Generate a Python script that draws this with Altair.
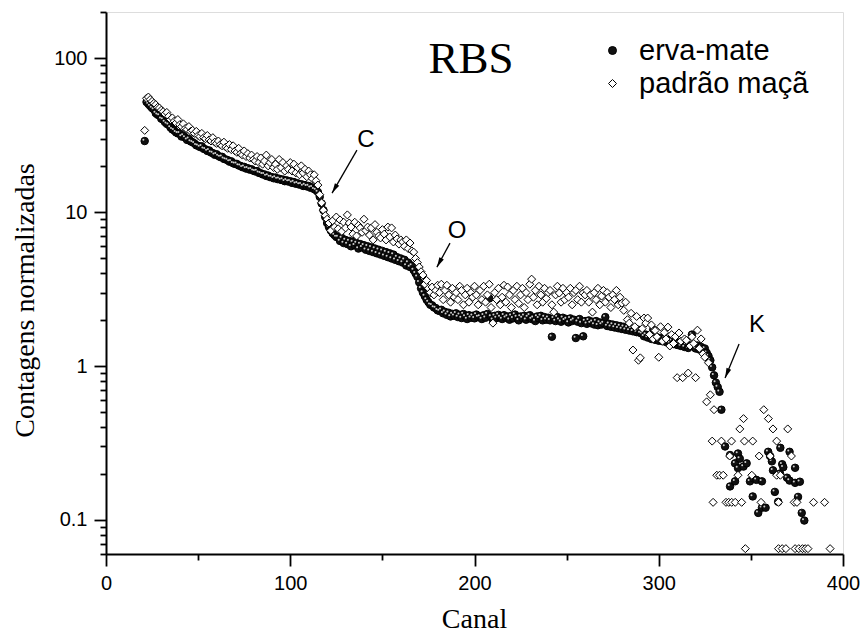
import altair as alt
import pandas as pd

SERIES = ["erva-mate", "padrão maçã"]

# ---- erva-mate (black spheres): one value per channel from channel 21 ----
erva_start = 21
erva_main = [
    29, 52, 50.5, 49, 47.5, 46.5, 44, 43, 42.5, 40.5,
    40, 38.5, 37.5, 37, 35.5, 34.5, 34, 33, 32.5, 32.5,
    31, 31.5, 30.5, 29.5, 30, 28.8, 28.5, 28, 27.2, 27,
    26.5, 26.8, 25.8, 25.6, 25, 25.2, 24.4, 24.2, 23.6, 23.8,
    23.2, 22.8, 22.9, 22.2, 22, 21.8, 21.3, 21.4, 20.8, 20.6,
    20.6, 20.1, 20, 19.6, 19.7, 19.2, 19.3, 18.9, 19, 18.6,
    18.4, 18.5, 18, 17.9, 17.6, 17.6, 17.2, 17.3, 16.9, 16.9,
    16.6, 16.8, 16.4, 16.5, 16.2, 16.3, 15.9, 16.1, 15.8, 15.9,
    15.5, 15.7, 15.3, 15.4, 15.1, 15.2, 14.8, 15, 14.7, 14.8,
    14.4, 14.5, 14.1, 13.9, 13.5, 12.6, 11.4, 10.3, 9.3, 8.5,
    8.0, 7.6, 7.3, 7.1, 6.9, 6.9, 6.5, 6.8, 6.3, 6.6,
    6.2, 6.5, 6.0, 6.4, 6.1, 6.3, 5.8, 6.2, 5.9, 6.1,
    5.7, 6.0, 5.6, 5.9, 5.5, 5.8, 5.4, 5.7, 5.3, 5.6,
    5.2, 5.5, 5.1, 5.4, 5.0, 5.3, 4.9, 5.1, 4.8, 5.0,
    4.7, 4.9, 4.5, 4.7, 4.4, 4.5, 4.2, 4.0, 3.8, 3.5,
    3.2, 3.0, 2.85, 2.7, 2.6, 2.5, 2.48, 2.4, 2.38, 2.3,
    2.28, 2.32, 2.2, 2.25, 2.15, 2.22, 2.1, 2.18, 2.12, 2.2,
    2.08, 2.15, 2.05, 2.18, 2.1, 2.02, 2.14, 2.06, 2.12, 2.04,
    2.16, 2.08, 2.1, 2.02, 2.14, 2.06, 2.18, 2.75, 2.1, 2.0,
    2.12, 2.05, 2.15, 2.08, 2.02, 2.14, 2.06, 2.1, 2.0, 2.12,
    2.04, 2.16, 2.08, 1.98, 2.1, 2.05, 2.12, 2.0, 2.08, 2.14,
    2.02, 2.06, 1.96, 2.1, 2.04, 2.12, 1.98, 2.08, 2.0, 2.06,
    1.98, 1.55, 2.04, 1.96, 2.08, 2.0, 1.94, 2.06, 1.98, 2.02,
    1.92, 2.04, 1.96, 2.0, 1.52, 1.94, 2.02, 1.9, 1.56, 1.96,
    1.88, 1.98, 1.9, 1.94, 1.86, 1.96, 1.84, 1.92, 1.86, 1.9,
    2.08, 1.82, 1.88, 1.8, 1.86, 1.78, 1.84, 1.76, 1.82, 1.74,
    1.8, 1.72, 1.78, 1.7, 1.76, 1.68, 1.74, 1.66, 1.72, 1.64,
    1.62, 1.56, 1.6, 1.53, 1.58, 1.5, 1.72, 1.48, 1.54, 1.46,
    1.52, 1.45, 1.5, 1.43, 1.48, 1.41, 1.46, 1.39, 1.44, 1.37,
    1.42, 1.35, 1.4, 1.33, 1.38, 1.31, 1.36, 1.6, 1.34, 1.3,
    1.36, 1.28, 1.33, 1.26, 1.3, 1.22, 1.16, 1.09, 0.98, 0.87,
    0.78, 0.73, 0.68, 0.52,
]
erva_tail_canal = [336, 338.7, 338.7, 341.4, 341.4, 343, 343, 344, 346, 347.7,
                   349.5, 351, 351, 353, 354, 356, 356, 358, 359.4, 360.4,
                   361.4, 362, 363, 364.8, 365.8, 366, 367, 367.6, 369.6, 371,
                   371, 374, 374, 375.6, 376.6, 377.6, 379]
erva_tail_cont = [0.30, 0.165, 0.264, 0.233, 0.178, 0.27, 0.217, 0.25, 0.222, 0.233,
                  0.178, 0.187, 0.142, 0.182, 0.111, 0.178, 0.12, 0.12, 0.277, 0.26,
                  0.24, 0.21, 0.152, 0.131, 0.2, 0.294, 0.23, 0.22, 0.188, 0.277,
                  0.18, 0.218, 0.174, 0.141, 0.177, 0.111, 0.099]

# ---- padrão maçã (open diamonds): one value per channel from channel 21 ----
padrao_start = 21
padrao_main = [
    34, 55, 56, 54, 52.5, 51, 50, 48, 47.5, 46,
    45, 43.5, 44.5, 42, 40, 41, 39, 38, 40, 37,
    36, 37.5, 35, 34.5, 36, 33.5, 34, 32.5, 33.5, 31.5,
    31, 32.5, 30.5, 30, 31.5, 29.5, 29, 30.5, 28.5, 28,
    29, 27.5, 27, 28.5, 26.5, 26, 27.5, 25.5, 27, 25,
    24.5, 26, 24, 23.5, 25, 23, 24, 22.5, 23.5, 22,
    21.5, 23, 21, 22.5, 20.5, 21.5, 23.5, 20, 21, 22,
    19.5, 20.5, 19, 22, 19.5, 21, 18.5, 20, 19, 21,
    18.5, 20.5, 18, 19.5, 17.5, 20, 18, 19, 17, 18.5,
    17.5, 16.5, 17.5, 16, 15, 13, 11.5, 10.3, 9.5, 9,
    8.5, 7.6, 8.8, 8, 9.3, 7.8, 8.9, 7.5, 8.6, 7.9,
    9.6, 8.5, 8.0, 7.2, 8.6, 7.0, 8.2, 7.9, 7.4, 9.0,
    7.6, 8.0, 7.1, 7.9, 6.6, 8.3, 7.4, 7.0, 6.8, 7.7,
    7.2, 6.6, 8.0, 6.9, 7.9, 6.4, 7.1, 6.7, 6.2, 6.6,
    6.4, 6.0, 6.6, 5.8, 6.3, 5.6, 5.5, 5.0, 4.7, 4.4,
    4.1, 3.9, 3.4, 3.6, 3.2, 3.0, 3.26, 2.9, 3.1, 3.35,
    3.0, 3.4, 2.7, 3.1, 3.35, 2.9, 2.6, 3.2, 2.8, 3.0,
    2.7, 3.3, 3.1, 2.5, 2.9, 3.2, 2.6, 3.0, 2.8, 3.3,
    2.9, 2.5, 3.1, 2.7, 3.3, 2.6, 2.9, 3.4, 2.4, 1.9,
    3.0, 2.7, 3.2, 2.5, 2.8, 3.35, 2.6, 3.26, 2.9, 2.4,
    3.1, 2.7, 3.3, 2.55, 2.9, 3.2, 2.4, 3.0, 2.7, 3.4,
    3.67, 2.8, 3.1, 2.5, 3.3, 2.9, 2.6, 3.2, 2.75, 3.0,
    3.1, 2.5, 2.24, 2.9, 3.3, 2.98, 2.6, 3.2, 2.7, 3.0,
    2.8, 3.2, 2.5, 3.0, 3.1, 2.7, 3.3, 2.6, 2.98, 2.9,
    3.1, 2.6, 2.9, 2.24, 3.0, 2.7, 3.2, 2.5, 2.85, 3.1,
    2.6, 3.0, 2.8, 2.4, 2.9, 2.7, 3.1, 2.5, 2.8, 2.56,
    2.3, 2.6, 2.0, 1.9, 2.2, 1.27, 1.8, 2.1, 1.09, 1.13,
    1.75, 2.05, 1.9, 2.05, 1.6, 1.85, 1.5, 1.7, 1.55, 1.14,
    1.8, 1.45, 1.65, 1.5, 1.79, 1.35, 1.6, 1.4, 1.55, 0.84,
    1.64, 1.45, 0.84, 1.5, 1.47, 0.9, 1.35, 1.55, 1.4, 0.84,
    1.71, 1.3, 1.5, 1.2, 1.14,
]
padrao_tail_canal = [326, 327, 328, 330,
                     329, 334, 339.5, 346.5, 351, 364,
                     329.5, 336.5, 338, 339.6, 341.5, 345, 355.5, 365, 373.5, 375, 384, 390,
                     347, 365, 367, 369, 374, 376, 378, 379.5, 381, 393,
                     331.5, 333, 335, 343, 350.5, 364, 366,
                     338.5, 354.5, 360.5, 372,
                     344, 362, 370,
                     346, 359.5,
                     357]
padrao_tail_cont = [0.585, 1.05, 0.65, 0.52,
                    0.325, 0.325, 0.325, 0.325, 0.325, 0.325,
                    0.13, 0.13, 0.13, 0.13, 0.13, 0.13, 0.13, 0.13, 0.13, 0.13, 0.13, 0.13,
                    0.065, 0.065, 0.065, 0.065, 0.065, 0.065, 0.065, 0.065, 0.065, 0.065,
                    0.195, 0.195, 0.195, 0.195, 0.195, 0.195, 0.195,
                    0.26, 0.26, 0.26, 0.26,
                    0.39, 0.39, 0.39,
                    0.455, 0.455,
                    0.52]

# ---- axes ----
x_major = [0, 100, 200, 300, 400]
x_minor = [50, 150, 250, 350]
y_major = [0.1, 1, 10, 100]
y_minor = [0.06, 0.07, 0.08, 0.09,
           0.2, 0.3, 0.4, 0.5, 0.6, 0.7, 0.8, 0.9,
           2, 3, 4, 5, 6, 7, 8, 9,
           20, 30, 40, 50, 60, 70, 80, 90, 200]
y_major_labels = ["0.1", "1", "10", "100"]

# ---- annotations (in data coordinates) ----
ann_label = ["C", "O", "K"]
ann_canal = [141.1, 190.5, 353.3]
ann_cont = [29.3, 7.53, 1.846]
arrow_from_canal = [136.2, 186.7, 343.6]
arrow_from_cont = [25.3, 6.29, 1.39]
arrow_to_canal = [122.7, 179.6, 336.0]
arrow_to_cont = [13.3, 4.39, 0.836]
arrow_angle = [210, 208, 202]
title_text = ["RBS"]
title_canal = [198.1]
title_cont = [79.9]

# ---- tables ----
rows = []
for i, v in enumerate(erva_main):
    rows.append((erva_start + i, v, SERIES[0]))
for c, v in zip(erva_tail_canal, erva_tail_cont):
    rows.append((c, v, SERIES[0]))
for i, v in enumerate(padrao_main):
    rows.append((padrao_start + i, v, SERIES[1]))
for c, v in zip(padrao_tail_canal, padrao_tail_cont):
    rows.append((c, v, SERIES[1]))
df = pd.DataFrame(rows, columns=["canal", "contagens", "amostra"])
df_erva = df[df.amostra == SERIES[0]]
df_padrao = df[df.amostra == SERIES[1]]

df_ann = pd.DataFrame({"label": ann_label, "canal": ann_canal, "contagens": ann_cont})
df_arrow = pd.DataFrame({"x0": arrow_from_canal, "y0": arrow_from_cont,
                         "x1": arrow_to_canal, "y1": arrow_to_cont, "ang": arrow_angle})
df_title = pd.DataFrame({"label": title_text, "canal": title_canal, "contagens": title_cont})

xs = alt.Scale(domain=[0, 400], nice=False, zero=False)
ys = alt.Scale(type="log", domain=[0.06, 200], nice=False)

x_test = " || ".join(f"datum.value == {v}" for v in x_major)
y_test = " || ".join(f"datum.value == {v}" for v in y_major)
y_label_expr = " : ".join(f"datum.value == {v} ? '{s}'" for v, s in zip(y_major, y_major_labels)) + " : ''"

common_axis = dict(
    grid=False, labelFont="Liberation Sans", labelFontSize=20, labelColor="black",
    domainColor="black", domainWidth=2, tickColor="black", tickWidth=1.8,
    titleFont="Liberation Serif", titleFontSize=28, titleFontWeight="normal", titleColor="black",
    labelOverlap=False, labelFlush=False,
)
x_axis = alt.Axis(
    values=sorted(x_major + x_minor),
    labelExpr=f"({x_test}) ? datum.label : ''",
    tickSize={"condition": {"test": x_test, "value": 12}, "value": 6},
    labelPadding=7, title="Canal", titleX=368, titleY=73,
    titleBaseline="alphabetic", titleAlign="center", **common_axis,
)
y_axis = alt.Axis(
    values=sorted(y_major + y_minor),
    labelExpr=y_label_expr,
    tickSize={"condition": {"test": y_test, "value": 12}, "value": 6},
    labelPadding=7, title="Contagens normalizadas", titleX=-73, titleY=288,
    titleAngle=270, titleBaseline="alphabetic", titleAlign="center", **common_axis,
)


def X(field):
    return alt.X(f"{field}:Q", scale=xs, axis=x_axis)


def Y(field):
    return alt.Y(f"{field}:Q", scale=ys, axis=y_axis)


leg = alt.Legend(
    title=None, orient="none", legendX=492, legendY=24, direction="vertical",
    labelFont="Liberation Sans", labelFontSize=29, labelColor="black", labelLimit=400,
    symbolSize=64, symbolStrokeColor="black", symbolStrokeWidth=1,
    rowPadding=3, labelOffset=12,
)
shape_enc = alt.Shape("amostra:N", scale=alt.Scale(domain=SERIES, range=["circle", "diamond"]), legend=leg)
fill_enc = alt.Fill("amostra:N", scale=alt.Scale(domain=SERIES, range=["#111111", "#ffffff"]), legend=leg)
stroke_enc = alt.Stroke("amostra:N", scale=alt.Scale(domain=SERIES, range=["#000000", "#000000"]), legend=leg)

erva_layer = alt.Chart(df_erva).mark_point(
    filled=True, strokeWidth=1, size=56, opacity=1
).encode(x=X("canal"), y=Y("contagens"), shape=shape_enc, fill=fill_enc, stroke=stroke_enc)

highlight_layer = alt.Chart(df_erva).mark_point(
    filled=True, color="#cfcfcf", size=4, opacity=1, xOffset=-1.3, yOffset=-1.3
).encode(x=X("canal"), y=Y("contagens"))

padrao_layer = alt.Chart(df_padrao).mark_point(
    filled=True, strokeWidth=1, size=64, opacity=1
).encode(x=X("canal"), y=Y("contagens"), shape=shape_enc, fill=fill_enc, stroke=stroke_enc)

arrow_lines = alt.Chart(df_arrow).mark_rule(color="black", strokeWidth=1.3).encode(
    x=X("x0"), y=Y("y0"), x2="x1:Q", y2="y1:Q")

arrow_heads = alt.Chart(df_arrow).mark_point(
    shape="M0,0L-0.5,2L0.5,2Z", filled=True, color="black", size=100, opacity=1
).encode(x=X("x1"), y=Y("y1"), angle=alt.Angle("ang:Q", scale=None))

ann_text_layer = alt.Chart(df_ann).mark_text(
    font="Liberation Sans", fontSize=24, color="black", align="center", baseline="middle"
).encode(x=X("canal"), y=Y("contagens"), text="label:N")

title_layer = alt.Chart(df_title).mark_text(
    font="Liberation Serif", fontSize=45, color="black", align="center", baseline="alphabetic"
).encode(x=X("canal"), y=Y("contagens"), text="label:N")

chart = alt.layer(
    erva_layer, highlight_layer, padrao_layer, arrow_lines, arrow_heads, ann_text_layer, title_layer
).properties(
    width=737, height=542,
    autosize=alt.AutoSizeParams(type="none"),
    padding={"left": 106, "top": 12, "right": 19, "bottom": 80},
).configure_view(
    stroke="black", strokeWidth=2
).configure(background="white")

chart.save("out.html", embed_options={"renderer": "svg", "actions": False})
